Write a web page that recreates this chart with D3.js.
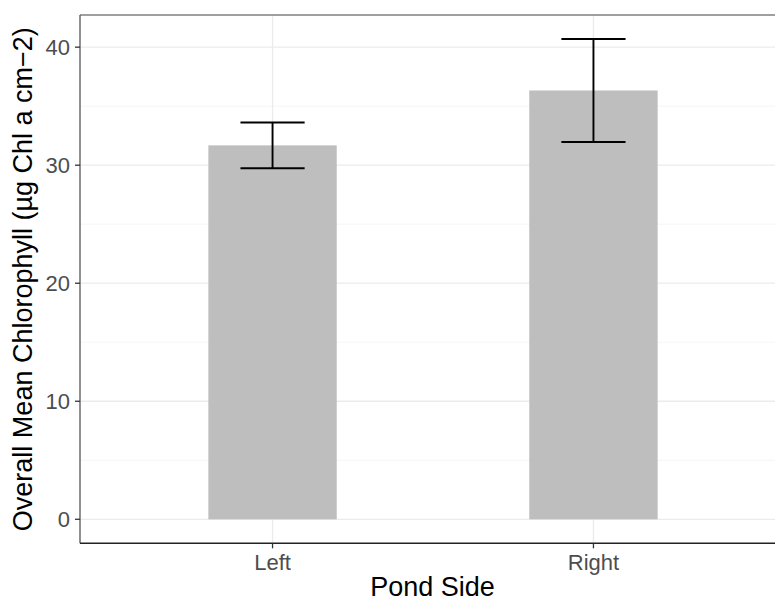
<!DOCTYPE html>
<html>
<head>
<meta charset="utf-8">
<script src="https://cdn.jsdelivr.net/npm/d3@7"></script>
<style>
  body { margin: 0; background: #fff; }
  svg { display: block; font-family: "Liberation Sans", Arial, sans-serif; }
  .tick-label { fill: #4d4d4d; font-size: 22px; }
  .axis-title { fill: #000; font-size: 27px; }
</style>
</head>
<body>
<svg id="chart" width="775" height="603"></svg>
<script>
// data
const sides = ['Left', 'Right'];
const meanChl = [31.68, 36.33];
const seChl = [1.94, 4.36];
const yTicks = [0, 10, 20, 30, 40];
const yMinor = [5, 15, 25, 35];

const svg = d3.select('#chart');
const panel = { left: 80, top: 15, right: 786, bottom: 543.3 };

const data = sides.map((s, i) => ({ side: s, mean: meanChl[i], lo: meanChl[i] - seChl[i], hi: meanChl[i] + seChl[i] }));

// ggplot-style 5% expansion
const yMax = d3.max(data, d => d.hi);
const pad = yMax * 0.05;
const y = d3.scaleLinear().domain([-pad, yMax + pad]).range([panel.bottom, panel.top]);
const x = d3.scalePoint().domain(sides).range([panel.left, panel.right]).padding(0.6);
const step = x.step();

const g = svg.append('g');

// grid
g.selectAll('.minor').data(yMinor).enter().append('line')
  .attr('x1', panel.left).attr('x2', panel.right)
  .attr('y1', d => y(d)).attr('y2', d => y(d))
  .attr('stroke', '#f3f3f3').attr('stroke-width', 0.8);
g.selectAll('.major').data(yTicks).enter().append('line')
  .attr('x1', panel.left).attr('x2', panel.right)
  .attr('y1', d => y(d)).attr('y2', d => y(d))
  .attr('stroke', '#ebebeb').attr('stroke-width', 1.3);
g.selectAll('.vmajor').data(sides).enter().append('line')
  .attr('x1', d => x(d)).attr('x2', d => x(d))
  .attr('y1', panel.top).attr('y2', panel.bottom)
  .attr('stroke', '#ebebeb').attr('stroke-width', 1.3);

// bars
g.selectAll('.bar').data(data).enter().append('rect')
  .attr('x', d => x(d.side) - step * 0.2)
  .attr('width', step * 0.4)
  .attr('y', d => y(d.mean))
  .attr('height', d => y(0) - y(d.mean))
  .attr('fill', '#bebebe');

// error bars
const eb = g.selectAll('.err').data(data).enter().append('g')
  .attr('stroke', '#000').attr('stroke-width', 1.9);
eb.append('line')
  .attr('x1', d => x(d.side)).attr('x2', d => x(d.side))
  .attr('y1', d => y(d.lo)).attr('y2', d => y(d.hi));
eb.append('line')
  .attr('x1', d => x(d.side) - step * 0.1).attr('x2', d => x(d.side) + step * 0.1)
  .attr('y1', d => y(d.lo)).attr('y2', d => y(d.lo));
eb.append('line')
  .attr('x1', d => x(d.side) - step * 0.1).attr('x2', d => x(d.side) + step * 0.1)
  .attr('y1', d => y(d.hi)).attr('y2', d => y(d.hi));

// panel border
g.append('line').attr('x1', panel.left).attr('x2', panel.right)
  .attr('y1', panel.top).attr('y2', panel.top)
  .attr('stroke', '#7f7f7f').attr('stroke-width', 1.3);
g.append('line').attr('x1', panel.left).attr('x2', panel.left)
  .attr('y1', panel.top).attr('y2', panel.bottom)
  .attr('stroke', '#555').attr('stroke-width', 1.3);
g.append('line').attr('x1', panel.left).attr('x2', panel.right)
  .attr('y1', panel.bottom).attr('y2', panel.bottom)
  .attr('stroke', '#222').attr('stroke-width', 1.6);

// y axis ticks
const yAxis = g.append('g');
yAxis.selectAll('line').data(yTicks).enter().append('line')
  .attr('x1', panel.left - 5).attr('x2', panel.left)
  .attr('y1', d => y(d)).attr('y2', d => y(d))
  .attr('stroke', '#333').attr('stroke-width', 1.3);
yAxis.selectAll('text').data(yTicks).enter().append('text')
  .attr('class', 'tick-label')
  .attr('x', panel.left - 10).attr('y', d => y(d))
  .attr('dy', '0.36em')
  .attr('text-anchor', 'end')
  .text(d => d);

// x axis ticks
const xAxis = g.append('g');
xAxis.selectAll('line').data(sides).enter().append('line')
  .attr('x1', d => x(d)).attr('x2', d => x(d))
  .attr('y1', panel.bottom).attr('y2', panel.bottom + 5)
  .attr('stroke', '#333').attr('stroke-width', 1.3);
xAxis.selectAll('text').data(sides).enter().append('text')
  .attr('class', 'tick-label')
  .attr('x', d => x(d)).attr('y', 570)
  .attr('text-anchor', 'middle')
  .text(d => d);

// axis titles
svg.append('text').attr('class', 'axis-title')
  .attr('x', (panel.left + 775) / 2 + 5).attr('y', 596)
  .attr('text-anchor', 'middle')
  .text('Pond Side');
svg.append('text').attr('class', 'axis-title')
  .attr('transform', 'translate(32,' + (panel.top + panel.bottom) / 2 + ') rotate(-90)')
  .attr('text-anchor', 'middle')
  .text('Overall Mean Chlorophyll (µg Chl a cm−2)');
</script>
</body>
</html>
